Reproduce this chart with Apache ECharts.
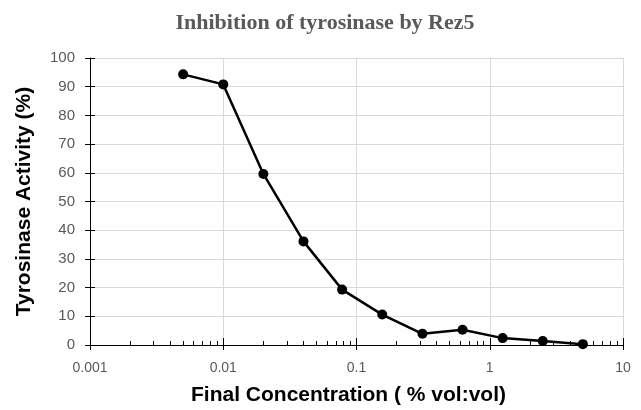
<!DOCTYPE html>
<html>
<head>
<meta charset="utf-8">
<script src="https://cdn.jsdelivr.net/npm/echarts@6/dist/echarts.min.js"></script>
<style>
  html, body { margin: 0; padding: 0; background: #fff; }
  #chart { width: 641px; height: 410px; }
</style>
</head>
<body>
<div id="chart"></div>
<script>
// 浓度 (% vol:vol) 与酪氨酸酶活性 (%)
var concentrations = [0.005, 0.01, 0.02, 0.04, 0.078, 0.156, 0.3125, 0.625, 1.25, 2.5, 5];
var activity = [94.3, 90.8, 59.6, 36.1, 19.3, 10.6, 3.9, 5.3, 2.4, 1.4, 0.3];
var yTicks = [0, 10, 20, 30, 40, 50, 60, 70, 80, 90, 100];

(function () {
  'use strict';

  var muted = '#595959';
  var grid = '#d9d9d9';
  var sans = '"Liberation Sans", Arial, sans-serif';

  var chart = echarts.init(document.getElementById('chart'), null, { renderer: 'canvas' });

  var points = concentrations.map(function (c, i) { return [c, activity[i]]; });

  var xBase = {
    type: 'log',
    logBase: 10,
    min: 0.001,
    max: 10,
    gridIndex: 0
  };

  chart.setOption({
    animation: false,
    title: {
      text: 'Inhibition of tyrosinase by Rez5',
      left: 320,
      top: 7,
      textAlign: 'center',
      textStyle: {
        color: muted,
        fontFamily: '"Liberation Serif", "Times New Roman", serif',
        fontWeight: 'bold',
        fontSize: 22
      }
    },
    grid: { left: 90, right: 18, top: 58, bottom: 65, outerBoundsMode: 'none' },
    xAxis: [
      // 主轴：标签、外侧刻度、竖向网格线
      Object.assign({}, xBase, {
        position: 'bottom',
        name: 'Final Concentration ( % vol:vol)',
        nameLocation: 'middle',
        nameGap: 40,
        nameTextStyle: {
          color: '#000', fontFamily: sans, fontWeight: 'bold', fontSize: 21,
          padding: [0, 16, 0, 0]
        },
        axisLine: { onZero: false, lineStyle: { color: '#000', width: 1 } },
        axisTick: { show: true, inside: false, length: 5, lineStyle: { color: '#000' } },
        axisLabel: {
          color: muted, fontFamily: sans, fontSize: 14, margin: 16,
          formatter: function (v) { return String(+v.toPrecision(6)); }
        },
        splitLine: { show: true, lineStyle: { color: grid, width: 1 } }
      }),
      // 辅助轴：内侧主刻度与次刻度
      Object.assign({}, xBase, {
        position: 'bottom',
        axisLine: { show: false, onZero: false },
        axisTick: { show: true, inside: true, length: 7, lineStyle: { color: '#000' } },
        minorTick: { show: true, splitNumber: 9, length: 4, lineStyle: { color: '#000' } },
        axisLabel: { show: false },
        splitLine: { show: false }
      })
    ],
    yAxis: [
      {
        type: 'value',
        min: yTicks[0],
        max: yTicks[yTicks.length - 1],
        interval: 10,
        name: 'Tyrosinase Activity (%)',
        nameLocation: 'middle',
        nameGap: 55,
        nameTextStyle: { color: '#000', fontFamily: sans, fontWeight: 'bold', fontSize: 21 },
        axisLine: { show: true, lineStyle: { color: '#000', width: 1 } },
        axisTick: { show: true, inside: false, length: 5, lineStyle: { color: '#000' } },
        axisLabel: { color: muted, fontFamily: sans, fontSize: 15, margin: 15 },
        splitLine: { show: true, lineStyle: { color: grid, width: 1 } }
      },
      {
        type: 'value',
        min: yTicks[0],
        max: yTicks[yTicks.length - 1],
        interval: 10,
        position: 'left',
        axisLine: { show: false },
        axisTick: { show: true, inside: true, length: 5, lineStyle: { color: '#000' } },
        axisLabel: { show: false },
        splitLine: { show: false }
      }
    ],
    series: [
      {
        type: 'line',
        xAxisIndex: 0,
        yAxisIndex: 0,
        data: points,
        symbol: 'circle',
        symbolSize: 10,
        lineStyle: { color: '#000', width: 2.5 },
        itemStyle: { color: '#000' }
      }
    ]
  });
})();
</script>
</body>
</html>
